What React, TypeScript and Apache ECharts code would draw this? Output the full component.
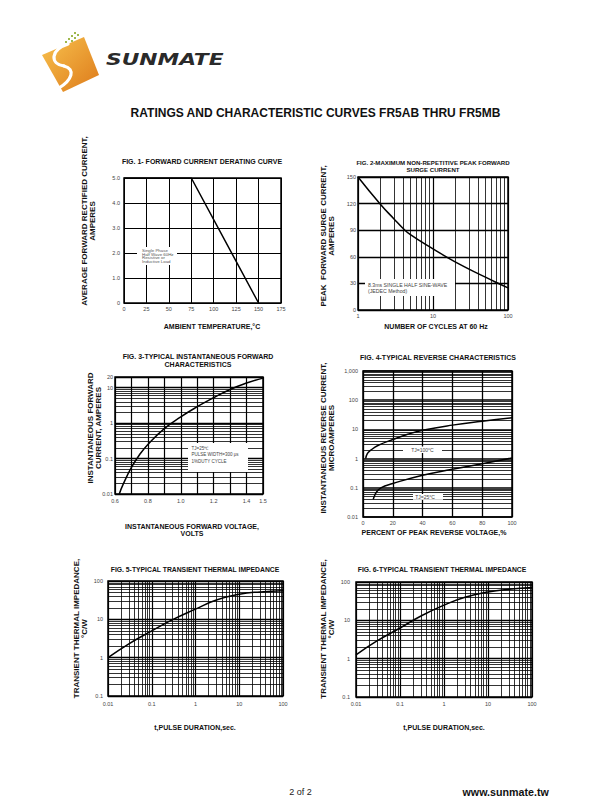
import React, { useEffect, useRef } from "react";
import * as echarts from "echarts";

// ---------- DATA ----------
// Fig 1 forward current derating
const fig1Temp = [0, 75, 150];
const fig1Current = [5, 5, 0];
// Fig 2 peak forward surge current
const fig2Cycles = [1, 2, 3, 4, 5, 10, 20, 50, 70, 100];
const fig2Surge = [150, 119, 103, 92, 85, 69, 54, 37, 31, 25];
// Fig 3 instantaneous forward characteristics
const fig3Volt = [0.626, 0.65, 0.7, 0.75, 0.8, 0.9, 1.0, 1.1, 1.2, 1.3, 1.4, 1.5];
const fig3Amp = [0.01, 0.019, 0.056, 0.13, 0.25, 0.7, 1.5, 2.9, 5.2, 8.9, 13.5, 18.6];
// Fig 4 reverse characteristics
const fig4Pct100 = [1.8, 3, 5, 10, 20, 30, 40, 60, 80, 100];
const fig4Ir100 = [1.0, 1.5, 1.9, 2.8, 4.5, 6.8, 9.3, 14, 19, 25];
const fig4Pct25 = [6.9, 7.5, 9, 12, 20, 40, 60, 80, 100];
const fig4Ir25 = [0.04, 0.05, 0.07, 0.1, 0.14, 0.27, 0.43, 0.67, 1.05];
// Fig 5 / Fig 6 transient thermal impedance
const fig5Time = [0.01, 0.03, 0.1, 0.3, 1, 3, 10, 30, 100];
const fig5Z = [1, 2.3, 5, 9.8, 18.5, 32, 45, 52, 56];
const fig6Time = [0.01, 0.03, 0.1, 0.3, 1, 3, 10, 30, 100];
const fig6Z = [1.25, 2.9, 6.3, 13, 25, 40, 55, 65, 72];

// tick labels
const fig3XLabels = ["0.6", "0.8", "1.0", "1.2", "1.4", "1.5"];
const fig4YLabels = ["0.01", "0.1", "1", "10", "100", "1,000"];

const FONT = "Liberation Sans";

const zip = (xs: number[], ys: number[]) => xs.map((x, i) => [x, ys[i]]);

// minor grid values inside a log range (2..9 x 10^k)
const logMinors = (lo: number, hi: number) => {
  const out: number[] = [];
  for (let e = Math.floor(Math.log10(lo)); Math.pow(10, e) < hi; e++) {
    for (let m = 2; m <= 9; m++) {
      const v = parseFloat((m * Math.pow(10, e)).toPrecision(3));
      if (v > lo * 1.0001 && v < hi * 0.9999) out.push(v);
    }
  }
  return out;
};

const gridsPx = [
  { left: 124, top: 178, width: 157, height: 125 },
  { left: 358, top: 177, width: 150, height: 133 },
  { left: 115, top: 377, width: 148, height: 117 },
  { left: 363, top: 371, width: 149, height: 146 },
  { left: 108, top: 581, width: 175, height: 115 },
  { left: 356, top: 582, width: 176, height: 115 },
];

const labelStyle = (margin: number, extra: any = {}) => ({
  fontSize: 5.5,
  color: "#444",
  fontFamily: FONT,
  margin,
  ...extra,
});

const baseAxis = (grid: number, major = 1) => ({
  gridIndex: grid,
  axisLine: { show: false },
  axisTick: { show: false },
  splitLine: { show: true, lineStyle: { color: "#000", width: major } },
});

const minorLine = (xs: number[], ys: number[]) => ({
  silent: true,
  symbol: ["none", "none"],
  label: { show: false },
  emphasis: { disabled: true },
  lineStyle: { color: "#000", width: 0.8, type: "solid" },
  data: [...ys.map((v) => ({ yAxis: v })), ...xs.map((v) => ({ xAxis: v }))],
});

const curve = (i: number, data: number[][], smooth: boolean, markLine?: any) => ({
  type: "line",
  xAxisIndex: i,
  yAxisIndex: i,
  data,
  smooth,
  showSymbol: false,
  silent: true,
  z: 10,
  lineStyle: { color: "#000", width: 1.5 },
  ...(markLine ? { markLine } : {}),
});

const txt = (
  x: number,
  y: number,
  text: string,
  size: number,
  opts: any = {}
) => ({
  type: "text",
  x,
  y,
  rotation: opts.rotation || 0,
  z: 101,
  silent: true,
  style: {
    text,
    fontSize: size,
    fontFamily: opts.family || FONT,
    fontWeight: opts.weight || "normal",
    fontStyle: opts.style || "normal",
    lineHeight: opts.lineHeight || size,
    fill: opts.color || "#111",
    align: opts.align || "center",
    verticalAlign: opts.valign || "middle",
  },
});

const box = (x: number, y: number, w: number, h: number) => ({
  type: "rect",
  z: 100,
  silent: true,
  shape: { x, y, width: w, height: h },
  style: { fill: "#fff" },
});

function buildOption() {
  const grid = gridsPx.map((g) => ({
    ...g,
    show: true,
    borderColor: "#000",
    borderWidth: 1.5,
    backgroundColor: "transparent",
  }));

  const xAxis: any[] = [
    { ...baseAxis(0), type: "value", min: 0, max: 175, interval: 25, axisLabel: labelStyle(3) },
    { ...baseAxis(1, 1.2), type: "log", logBase: 10, min: 1, max: 100, axisLabel: labelStyle(2.5) },
    {
      ...baseAxis(2, 1.2),
      type: "value",
      min: 0.6,
      max: 1.5,
      interval: 0.1,
      axisLabel: labelStyle(3.5, {
        formatter: (v: number) => {
          const s = v.toFixed(1);
          return fig3XLabels.indexOf(s) >= 0 ? s : "";
        },
      }),
    },
    { ...baseAxis(3, 1.3), type: "value", min: 0, max: 100, interval: 20, axisLabel: labelStyle(2.5) },
    { ...baseAxis(4, 1.2), type: "log", logBase: 10, min: 0.01, max: 100, axisLabel: labelStyle(4.5) },
    { ...baseAxis(5, 1.2), type: "log", logBase: 10, min: 0.01, max: 100, axisLabel: labelStyle(4) },
  ];

  const yAxis: any[] = [
    {
      ...baseAxis(0),
      type: "value",
      min: 0,
      max: 5,
      interval: 1,
      axisLabel: labelStyle(4, { formatter: (v: number) => (v === 0 ? "0" : v.toFixed(1)) }),
    },
    { ...baseAxis(1, 1.3), type: "value", min: 0, max: 150, interval: 30, axisLabel: labelStyle(2) },
    { ...baseAxis(2, 1.3), type: "log", logBase: 10, min: 0.01, max: 20, axisLabel: labelStyle(2) },
    {
      ...baseAxis(3, 1.6),
      type: "log",
      logBase: 10,
      min: 0.01,
      max: 1000,
      axisLabel: labelStyle(5, {
        formatter: (v: number) => {
          const idx = Math.round(Math.log10(v)) + 2;
          return fig4YLabels[idx] || "";
        },
      }),
    },
    { ...baseAxis(4, 1.3), type: "log", logBase: 10, min: 0.1, max: 100, axisLabel: labelStyle(5) },
    { ...baseAxis(5, 1.3), type: "log", logBase: 10, min: 0.1, max: 100, axisLabel: labelStyle(6) },
  ];

  const series: any[] = [
    curve(0, zip(fig1Temp, fig1Current), false),
    curve(1, zip(fig2Cycles, fig2Surge), true, minorLine(logMinors(1, 100), [])),
    curve(2, zip(fig3Volt, fig3Amp), true, minorLine([], logMinors(0.01, 20))),
    curve(3, zip(fig4Pct100, fig4Ir100), true, minorLine([], logMinors(0.01, 1000))),
    curve(3, zip(fig4Pct25, fig4Ir25), true),
    curve(4, zip(fig5Time, fig5Z), true, minorLine(logMinors(0.01, 100), logMinors(0.1, 100))),
    curve(5, zip(fig6Time, fig6Z), true, minorLine(logMinors(0.01, 100), logMinors(0.1, 100))),
  ];

  const B = "bold";
  const R = Math.PI / 2;
  const graphic: any[] = [
    // ---- logo ----
    {
      type: "polygon",
      z: 100,
      silent: true,
      shape: { points: [[42, 55], [84, 37], [99, 75], [63, 92]] },
      style: {
        fill: new echarts.graphic.LinearGradient(0, 0, 1, 1, [
          { offset: 0, color: "#f8c24e" },
          { offset: 1, color: "#dd7a1a" },
        ]),
      },
    },
    {
      type: "bezierCurve",
      z: 101,
      silent: true,
      shape: { x1: 68, y1: 44, cpx1: 50, cpy1: 50, cpx2: 50, cpy2: 64, x2: 64, y2: 66 },
      style: { stroke: "#fff", lineWidth: 3.2, fill: null, lineCap: "round" },
    },
    {
      type: "bezierCurve",
      z: 101,
      silent: true,
      shape: { x1: 64, y1: 66, cpx1: 76, cpy1: 69, cpx2: 72, cpy2: 80, x2: 59, y2: 88 },
      style: { stroke: "#fff", lineWidth: 3.2, fill: null, lineCap: "round" },
    },
    ...[
      [74, 32], [77, 34], [71, 35], [74, 37], [68, 38], [71, 40], [65, 41],
    ].map(([x, y]) => ({
      type: "rect",
      z: 101,
      silent: true,
      shape: { x, y, width: 2, height: 2 },
      style: { fill: "#9fb84c" },
    })),
    {
      type: "text",
      x: 106,
      y: 60,
      scaleX: 1.36,
      z: 101,
      silent: true,
      style: {
        text: "SUNMATE",
        fontSize: 16,
        fontFamily: "DejaVu Sans",
        fontWeight: "bold",
        fontStyle: "italic",
        fill: "#2a2a2a",
        align: "left",
        verticalAlign: "middle",
      },
    },
    // ---- page title ----
    txt(315.5, 113, "RATINGS AND CHARACTERISTIC CURVES FR5AB THRU FR5MB", 12, { weight: B }),

    // ---- fig 1 ----
    txt(202, 161, "FIG. 1- FORWARD CURRENT DERATING CURVE", 7, { weight: B }),
    txt(88, 221, "AVERAGE FORWARD RECTIFIED CURRENT,\nAMPERES", 8, { weight: B, rotation: R, lineHeight: 8 }),
    txt(212, 326, "AMBIENT TEMPERATURE,°C", 7, { weight: B }),
    box(137, 247, 40, 18),
    txt(142, 256, "Single Phase\nHalf Wave 60Hz\nResistive or\nInductive Load", 4.4, {
      align: "left",
      color: "#555",
      lineHeight: 3.9,
    }),

    // ---- fig 2 ----
    txt(433, 166, "FIG. 2-MAXIMUM NON-REPETITIVE PEAK FORWARD\nSURGE CURRENT", 6.1, { weight: B, lineHeight: 6.5 }),
    txt(327, 236, "PEAK  FORWARD SURGE CURRENT,\nAMPERES", 8, { weight: B, rotation: R, lineHeight: 8 }),
    txt(436, 326, "NUMBER OF CYCLES AT 60 Hz", 7, { weight: B }),
    box(365, 279, 90, 17),
    txt(368, 287.5, "8.3ms SINGLE HALF SINE-WAVE\n(JEDEC Method)", 5.2, {
      align: "left",
      color: "#444",
      lineHeight: 6,
    }),

    // ---- fig 3 ----
    txt(198, 360.5, "FIG. 3-TYPICAL INSTANTANEOUS FORWARD\nCHARACTERISTICS", 7, { weight: B, lineHeight: 7.4 }),
    txt(94, 428, "INSTANTANEOUS FORWARD\nCURRENT, AMPERES", 8, { weight: B, rotation: R, lineHeight: 8 }),
    txt(192, 529.5, "INSTANTANEOUS FORWARD VOLTAGE,\nVOLTS", 7, { weight: B, lineHeight: 7 }),
    box(188, 443, 60, 29),
    txt(191.5, 454.5, "TJ=25℃\nPULSE WIDTH=300 μs\n1%DUTY CYCLE", 4.5, {
      align: "left",
      color: "#444",
      lineHeight: 6.5,
    }),

    // ---- fig 4 ----
    txt(438, 357, "FIG. 4-TYPICAL REVERSE CHARACTERISTICS", 7, { weight: B }),
    txt(327, 438, "INSTANTANEOUS REVERSE CURRENT,\nMICROAMPERES", 8, { weight: B, rotation: R, lineHeight: 8 }),
    txt(434, 532.5, "PERCENT OF PEAK REVERSE VOLTAGE,%", 7, { weight: B }),
    box(403, 446.5, 39, 6.5),
    txt(422.5, 449.8, "TJ=100°C", 5, { color: "#444" }),
    box(413, 494, 30, 5.8),
    txt(425, 497, "TJ=25°C", 5, { color: "#444" }),

    // ---- fig 5 ----
    txt(195, 569, "FIG. 5-TYPICAL TRANSIENT THERMAL IMPEDANCE", 6.8, { weight: B }),
    txt(80, 628.5, "TRANSIENT THERMAL IMPEDANCE,\n°C/W", 8, { weight: B, rotation: R, lineHeight: 8 }),
    txt(195, 727, "t,PULSE DURATION,sec.", 7, { weight: B }),

    // ---- fig 6 ----
    txt(442, 569, "FIG. 6-TYPICAL TRANSIENT THERMAL IMPEDANCE", 6.8, { weight: B }),
    txt(327, 629, "TRANSIENT THERMAL IMPEDANCE,\n°C/W", 8, { weight: B, rotation: R, lineHeight: 8 }),
    txt(444, 727, "t,PULSE DURATION,sec.", 7, { weight: B }),

    // ---- footer ----
    txt(300.5, 791.5, "2 of 2", 9, { color: "#222" }),
    txt(462.5, 791.5, "www.sunmate.tw", 10.7, { weight: B, align: "left", color: "#111" }),
  ];

  return {
    animation: false,
    backgroundColor: "#fff",
    grid,
    xAxis,
    yAxis,
    series,
    graphic,
  };
}

export default function App() {
  const ref = useRef<HTMLDivElement>(null);
  useEffect(() => {
    if (!ref.current) return;
    const chart = echarts.init(ref.current, null, { renderer: "svg" });
    chart.setOption(buildOption() as any);
    return () => chart.dispose();
  }, []);
  return (
    <div
      ref={ref}
      style={{ position: "absolute", left: 0, top: 0, width: 610, height: 810, background: "#fff" }}
    />
  );
}
